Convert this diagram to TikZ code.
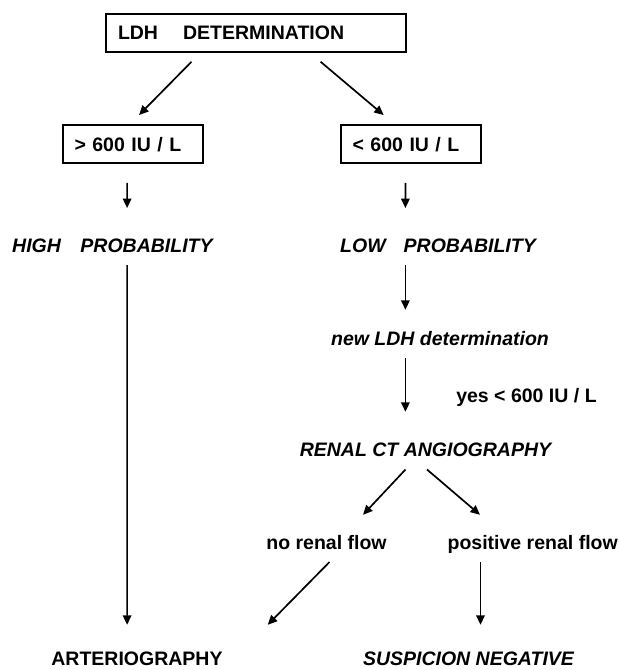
\documentclass[tikz,border=0pt]{standalone}
\usepackage{fontspec}
\setmainfont{Liberation Sans}
\usetikzlibrary{arrows.meta}
\newcommand\chartfont{\fontsize{19.5pt}{23pt}\selectfont\bfseries}

\begin{document}
\begin{tikzpicture}[x=1pt,y=-1pt,
    box/.style={draw,line width=2pt,minimum height=38.3pt,inner xsep=12pt,inner ysep=0pt,align=left,font=\chartfont},
    txt/.style={inner sep=0pt,anchor=base,text height=14.2pt,text depth=0pt,font=\chartfont},
    itxt/.style={txt,font=\chartfont\itshape},
    arr/.style={line width=1.7pt,-{Triangle[length=9.5pt,width=8.5pt]}}]
    \useasboundingbox (0,0) rectangle (619,670);
    \node[box,text width=276pt] (ldh) at (256,33.1) {LDH\hspace{25pt}DETERMINATION};
    \node[box,text width=116pt] (gt) at (132.5,144.2) {> 600 IU / L};
    \node[box,text width=116pt] (lt) at (410.6,144.2) {< 600 IU / L};
    \node[itxt] (high) at (112.4,252.3) {HIGH\hspace{19.5pt}PROBABILITY};
    \node[itxt] (low) at (438,252.3) {LOW\hspace{18pt}PROBABILITY};
    \node[itxt] (newldh) at (440,345) {new LDH determination};
    \node[txt] (yes) at (526.5,402) {yes < 600 IU / L};
    \node[itxt] (renal) at (425.5,456) {RENAL CT ANGIOGRAPHY};
    \node[txt] (norenal) at (326.5,549) {no renal flow};
    \node[txt] (posrenal) at (532.7,549) {positive renal flow};
    \node[txt] (arterio) at (137,665.5) {ARTERIOGRAPHY};
    \node[itxt] (suspicion) at (468.5,665.5) {SUSPICION NEGATIVE};
    \draw[arr] ([xshift=-64.5pt,yshift=-8.5pt]ldh.south) -- ([xshift=6.5pt,yshift=9pt]gt.north);
    \draw[arr] ([xshift=64.6pt,yshift=-8.5pt]ldh.south) -- ([xshift=-26.9pt,yshift=9pt]lt.north);
    \draw[arr] ([xshift=-5.4pt,yshift=-18.4pt]gt.south) -- ([xshift=14.7pt,yshift=29.8pt]high.north);
    \draw[arr] ([xshift=-5.2pt,yshift=-18.4pt]lt.south) -- ([xshift=-32.6pt,yshift=29.8pt]low.north);
    \draw[arr] ([xshift=14.7pt,yshift=-12.7pt]high.south) -- ([xshift=-9.9pt,yshift=26.3pt]arterio.north);
    \draw[arr] ([xshift=-32.6pt,yshift=-12.7pt]low.south) -- ([xshift=-34.6pt,yshift=20.8pt]newldh.north);
    \draw[arr] ([xshift=-34.6pt,yshift=-13pt]newldh.south) -- ([xshift=-20.1pt,yshift=29.8pt]renal.north);
    \draw[arr] ([xshift=-20pt,yshift=-13.3pt]renal.south) -- ([xshift=36.5pt,yshift=19.8pt]norenal.north);
    \draw[arr] ([xshift=1.5pt,yshift=-13.3pt]renal.south) -- ([xshift=-52.7pt,yshift=19.8pt]posrenal.north);
    \draw[arr] ([xshift=3.1pt,yshift=-12.7pt]norenal.south) -- ([xshift=130.7pt,yshift=26.3pt]arterio.north);
    \draw[arr] ([xshift=-52.2pt,yshift=-12.7pt]posrenal.south) -- ([xshift=12pt,yshift=26.3pt]suspicion.north);
\end{tikzpicture}
\end{document}
